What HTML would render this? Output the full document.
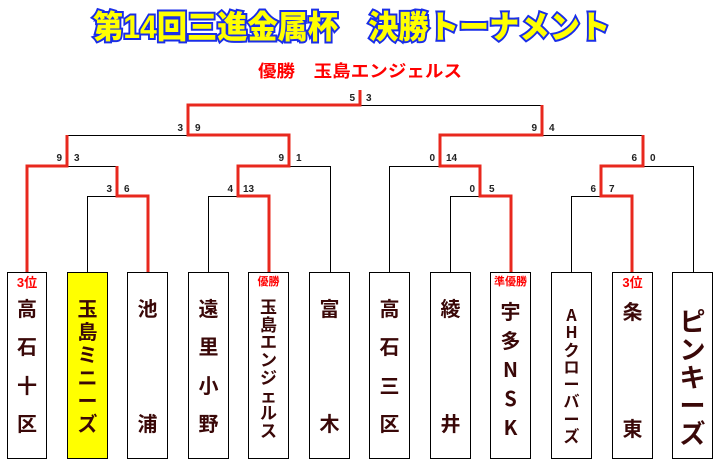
<!DOCTYPE html>
<html><head><meta charset="utf-8"><style>
body{margin:0;background:#fff;width:724px;height:468px;overflow:hidden;position:relative;font-family:"Liberation Sans","Noto Sans CJK JP",sans-serif}
.b{position:absolute;top:272px;height:187px;border:1px solid #000;box-sizing:border-box;display:flex;flex-direction:column;justify-content:space-between;align-items:center;color:#3a0808;font-weight:bold;font-family:"Noto Sans CJK JP","Liberation Sans",sans-serif;line-height:1}
.lab{position:absolute;top:276px;color:#f00;font-weight:bold;font-size:12px;text-align:center;font-family:"Liberation Sans","Noto Sans CJK JP",sans-serif;line-height:1}
svg{position:absolute;left:0;top:0}
</style></head><body>
<svg width="724" height="468" font-family="Liberation Sans, Noto Sans CJK JP, sans-serif">
<text x="93" y="38" font-size="32" font-weight="900" fill="#ffff00" stroke="#1a2ee8" stroke-width="4" paint-order="stroke" textLength="517" lengthAdjust="spacingAndGlyphs">第14回三進金属杯　決勝トーナメント</text>
<text x="258" y="77" font-size="17" font-weight="bold" fill="#f00" textLength="204" lengthAdjust="spacingAndGlyphs">優勝　玉島エンジェルス</text>
<g stroke="#000" stroke-width="1" fill="none">
<path d="M67.5 135.5H188M87.5 272V196.5H117M117 166.5H67M208.5 272V196.5H238M330.5 272V166.5H289"/>
<path d="M389.5 272V166.5H440M450.5 272V196.5H480M542 105.5H360M571.5 272V196.5H601M643 135.5H542M693.5 272V166.5H643"/>
</g>
<g stroke="#e8281e" stroke-width="3" fill="none" stroke-linejoin="miter">
<path d="M27 272V166H67V135"/>
<path d="M148 272V196H117V166"/>
<path d="M269 272V196H238V166H289V135H188V105H360V90"/>
<path d="M511 272V196H480V166H440V135H542V105"/>
<path d="M632 272V196H601V166H643V135"/>
</g>
<g font-size="10" font-weight="bold" fill="#222">
<text x="355" y="101" text-anchor="end">5</text><text x="366" y="101">3</text>
<text x="183" y="131" text-anchor="end">3</text><text x="195" y="131">9</text>
<text x="537" y="131" text-anchor="end">9</text><text x="549" y="131">4</text>
<text x="62" y="161" text-anchor="end">9</text><text x="74" y="161">3</text>
<text x="284" y="161" text-anchor="end">9</text><text x="296" y="161">1</text>
<text x="435" y="161" text-anchor="end">0</text><text x="446" y="161">14</text>
<text x="637" y="161" text-anchor="end">6</text><text x="650" y="161">0</text>
<text x="112" y="192" text-anchor="end">3</text><text x="124" y="192">6</text>
<text x="233" y="192" text-anchor="end">4</text><text x="243" y="192">13</text>
<text x="475" y="192" text-anchor="end">0</text><text x="489" y="192">5</text>
<text x="596" y="192" text-anchor="end">6</text><text x="609" y="192">7</text>
</g>
</svg>
<div class="b" style="left:7px;width:40px;font-size:20px;padding:25px 0"><span>高</span><span>石</span><span>十</span><span>区</span></div>
<div class="b" style="left:67px;width:41px;background:#ffff00;font-size:20px;padding:25px 0"><span>玉</span><span>島</span><span>ミ</span><span>ニ</span><span>ー</span><span>ズ</span></div>
<div class="b" style="left:127px;width:41px;font-size:20px;padding:25px 0"><span>池</span><span>浦</span></div>
<div class="b" style="left:188px;width:41px;font-size:20px;padding:25px 0"><span>遠</span><span>里</span><span>小</span><span>野</span></div>
<div class="b" style="left:248px;width:41px;font-size:17px;padding:24px 0 20px"><span>玉</span><span>島</span><span>エ</span><span>ン</span><span>ジ</span><span>ェ</span><span>ル</span><span>ス</span></div>
<div class="b" style="left:309px;width:41px;font-size:20px;padding:25px 0"><span>富</span><span>木</span></div>
<div class="b" style="left:369px;width:41px;font-size:20px;padding:25px 0"><span>高</span><span>石</span><span>三</span><span>区</span></div>
<div class="b" style="left:430px;width:41px;font-size:20px;padding:25px 0"><span>綾</span><span>井</span></div>
<div class="b" style="left:490px;width:41px;font-size:20px;padding:28px 0 21px"><span>宇</span><span>多</span><span>N</span><span>S</span><span>K</span></div>
<div class="b" style="left:551px;width:41px;font-size:16px;padding:33px 0 15px"><span>A</span><span>H</span><span>ク</span><span>ロ</span><span>ー</span><span>バ</span><span>ー</span><span>ズ</span></div>
<div class="b" style="left:612px;width:41px;font-size:20px;padding:28px 0 20px"><span>条</span><span>東</span></div>
<div class="b" style="left:672px;width:41px;font-size:26px;padding:35px 0 12px"><span>ピ</span><span>ン</span><span>キ</span><span>ー</span><span>ズ</span></div>
<div class="lab" style="left:7px;width:40px;font-size:13px">3位</div>
<div class="lab" style="left:248px;width:41px;font-size:11px;top:277px">優勝</div>
<div class="lab" style="left:488px;width:45px;font-size:11px;top:277px">準優勝</div>
<div class="lab" style="left:612px;width:41px;font-size:13px">3位</div>
</body></html>
